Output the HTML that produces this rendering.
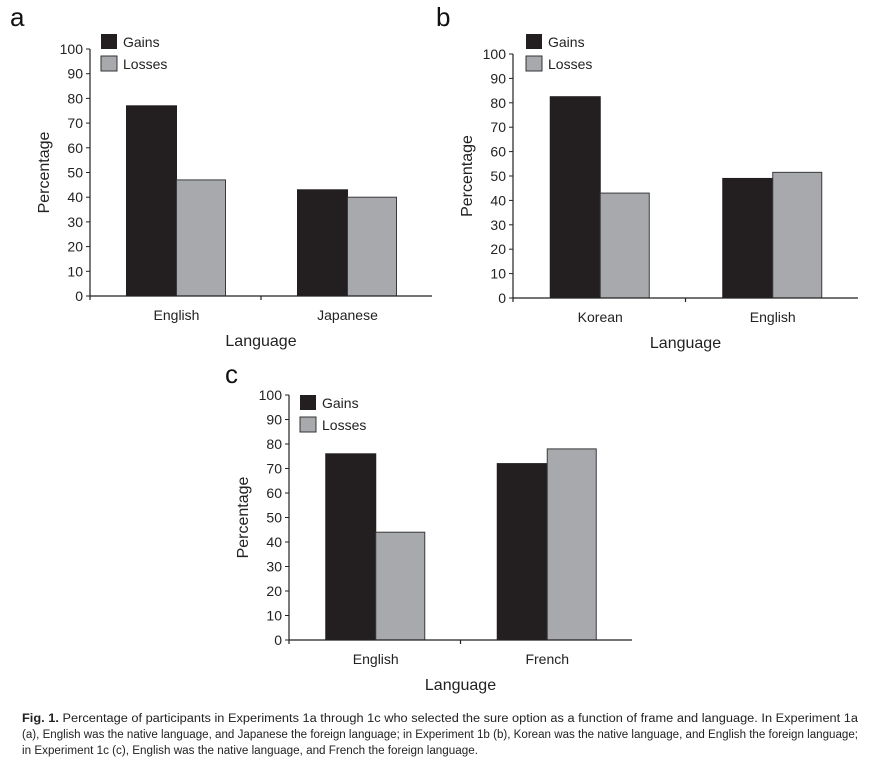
<!DOCTYPE html>
<html><head><meta charset="utf-8"><style>
body{margin:0;background:#fff;width:869px;height:764px;overflow:hidden;font-family:"Liberation Sans",Arial,sans-serif}
svg{position:absolute;left:0;top:0}
</style></head><body>
<svg id="chart" width="869" height="764"></svg>
<script>
const catsA=["English","Japanese"];
const gainsA=[77,43];
const lossesA=[47,40];
const catsB=["Korean","English"];
const gainsB=[82.5,49];
const lossesB=[43,51.5];
const catsC=["English","French"];
const gainsC=[76,72];
const lossesC=[44,78];
const ticks=[0,10,20,30,40,50,60,70,80,90,100];
const NS="http://www.w3.org/2000/svg";
const svg=document.getElementById('chart');
function mk(t,a,p){const e=document.createElementNS(NS,t);for(const k in a)e.setAttribute(k,a[k]);(p||svg).appendChild(e);return e;}
function panel(id,letter,lx,ly,ax,y0,y100,xEnd,cats,g,l,legX,legY){
  const grp=mk('g',{});
  
  
  const y=v=>y0+(y100-y0)*v/100;
  const t=mk('text',{x:lx,y:ly,'font-size':26,fill:'#111'},grp);t.textContent=letter;
  
  const w=(xEnd-ax);const cw=w/2;
  cats.forEach((c,i)=>{
    const cx=ax+cw*i+cw/2+1;
    const bg=mk('rect',{x:cx-50,y:y(g[i]),width:50,height:y0-y(g[i]),fill:'#231f20',stroke:'#231f20'},grp);
    
    const bl=mk('rect',{x:cx,y:y(l[i]),width:49,height:y0-y(l[i]),fill:'#a7a9ac',stroke:'#3a3a3a','stroke-width':1},grp);
    
    const tx=mk('text',{x:cx,y:y0+24,'font-size':14,'text-anchor':'middle',fill:'#222'},grp);tx.textContent=c;
    
  });
  mk('line',{x1:ax,y1:y0,x2:xEnd,y2:y0,stroke:'#222','stroke-width':1.2},grp);
  mk('line',{x1:ax,y1:y100,x2:ax,y2:y0+4,stroke:'#222','stroke-width':1.2},grp);
  mk('line',{x1:ax+cw,y1:y0,x2:ax+cw,y2:y0+4,stroke:'#222','stroke-width':1.2},grp);
  ticks.forEach(v=>{
    mk('line',{x1:ax-4,y1:y(v),x2:ax,y2:y(v),stroke:'#222'},grp);
    const tt=mk('text',{x:ax-7,y:y(v)+5,'font-size':14,'text-anchor':'end',fill:'#222'},grp);tt.textContent=v;
    
  });
  const xt=mk('text',{x:ax+w/2,y:y0+50,'font-size':16,'text-anchor':'middle',fill:'#222'},grp);xt.textContent='Language';
  
  const ym=(y0+y100)/2;
  const yt=mk('text',{x:ax-41,y:ym,'font-size':16,'text-anchor':'middle',fill:'#222',transform:`rotate(-90 ${ax-41} ${ym})`},grp);yt.textContent='Percentage';
  
  const lg=mk('g',{},grp);
  mk('rect',{x:legX,y:legY,width:16,height:15,fill:'#231f20'},lg);
  mk('rect',{x:legX,y:legY+22,width:16,height:15,fill:'#a7a9ac',stroke:'#333'},lg);
  let a1=mk('text',{x:legX+22,y:legY+13,'font-size':14,fill:'#222'},lg);a1.textContent='Gains';
  let a2=mk('text',{x:legX+22,y:legY+35,'font-size':14,fill:'#222'},lg);a2.textContent='Losses';
}
panel('a','a',10,26,90,296,49,432,catsA,gainsA,lossesA,101,34);
panel('b','b',436,26,513,298,54,858,catsB,gainsB,lossesB,526,34);
panel('c','c',225,383,289,640,395,632,catsC,gainsC,lossesC,300,395);
</script>
<svg width="869" height="764" style="position:absolute;left:0;top:0">
<g font-size="11.5" fill="#222" font-family="Liberation Sans, sans-serif">
<text x="22" y="722" textLength="836" lengthAdjust="spacingAndGlyphs"><tspan font-weight="bold">Fig. 1.</tspan> Percentage of participants in Experiments 1a through 1c who selected the sure option as a function of frame and language. In Experiment 1a</text>
<text x="22" y="738" textLength="836" lengthAdjust="spacingAndGlyphs">(a), English was the native language, and Japanese the foreign language; in Experiment 1b (b), Korean was the native language, and English the foreign language;</text>
<text x="22" y="754" textLength="456" lengthAdjust="spacingAndGlyphs">in Experiment 1c (c), English was the native language, and French the foreign language.</text>
</g></svg>
</body></html>
